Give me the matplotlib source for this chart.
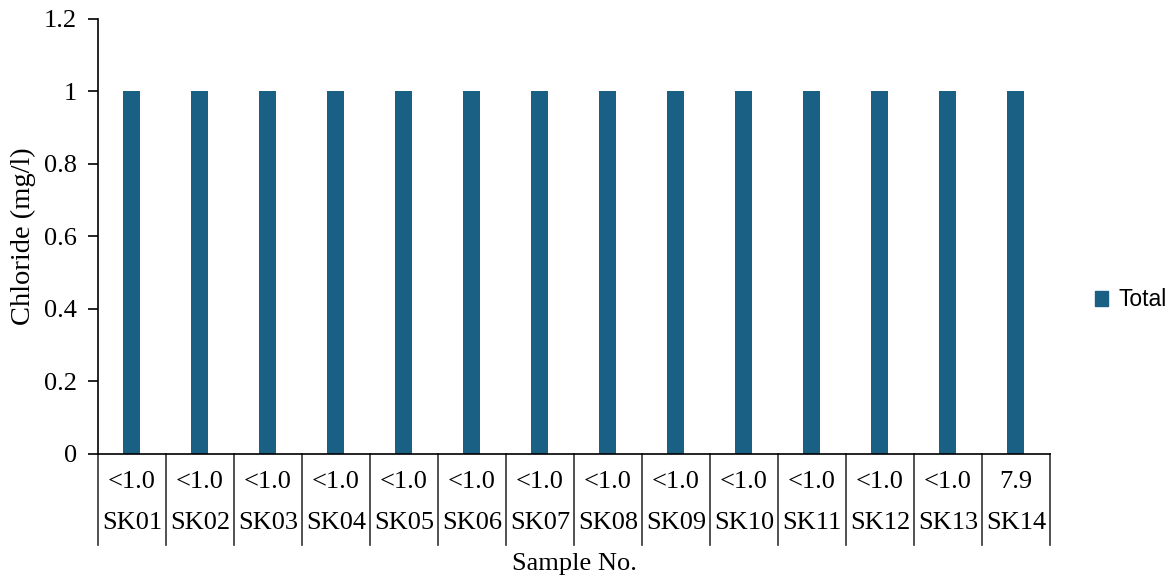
import matplotlib.pyplot as plt
from matplotlib.patches import Patch
from matplotlib.transforms import blended_transform_factory

samples = ["SK01", "SK02", "SK03", "SK04", "SK05", "SK06", "SK07",
           "SK08", "SK09", "SK10", "SK11", "SK12", "SK13", "SK14"]
reported = ["<1.0"] * 13 + ["7.9"]
total = [1, 1, 1, 1, 1, 1, 1, 1, 1, 1, 1, 1, 1, 1]
y_ticks = [0, 0.2, 0.4, 0.6, 0.8, 1.0, 1.2]

bar_color = "#1a5f84"
serif = "Liberation Serif"

fig = plt.figure(figsize=(11.75, 5.79), dpi=100)
ax = fig.add_axes([0.0834, 0.2159, 0.8102, 0.7513])

x = list(range(len(samples)))
ax.bar(x, total, width=0.25, color=bar_color)

ax.set_xlim(-0.5, len(samples) - 0.5)
ax.set_ylim(0, 1.2)
ax.set_yticks(y_ticks)
ax.set_yticklabels([f"{v:g}" for v in y_ticks], fontfamily=serif, fontsize=19)
ax.tick_params(axis="y", length=7, width=1.2, pad=8)
ax.set_xticks([])
for side in ("top", "right"):
    ax.spines[side].set_visible(False)
ax.spines["left"].set_linewidth(1.2)
ax.spines["bottom"].set_linewidth(1.2)

# two-row category table under the axis
trans = blended_transform_factory(ax.transData, ax.transAxes)
for i in range(len(samples) + 1):
    ax.plot([i - 0.5, i - 0.5], [0, -0.209], transform=trans,
            color="#333333", lw=1.2, clip_on=False)
for i, (s, r) in enumerate(zip(samples, reported)):
    ax.text(i, -0.064, r, transform=trans, ha="center", va="center",
            fontfamily=serif, fontsize=19)
    ax.text(i, -0.158, s, transform=trans, ha="center", va="center",
            fontfamily=serif, fontsize=19)

ax.text(0.5, -0.253, "Sample No.", transform=ax.transAxes, ha="center",
        va="center", fontfamily=serif, fontsize=19)
ax.text(-0.078, 0.5, "Chloride (mg/l)", transform=ax.transAxes, rotation=90,
        ha="center", va="center", fontfamily=serif, fontsize=20.5)

fig.legend(handles=[Patch(color=bar_color, label="Total")],
           loc="center left", bbox_to_anchor=(0.914, 0.482), frameon=False,
           prop={"family": "Liberation Sans", "size": 16.5},
           handlelength=0.6, handleheight=0.6, handletextpad=0.45)

fig.savefig("out.png", dpi=100)
